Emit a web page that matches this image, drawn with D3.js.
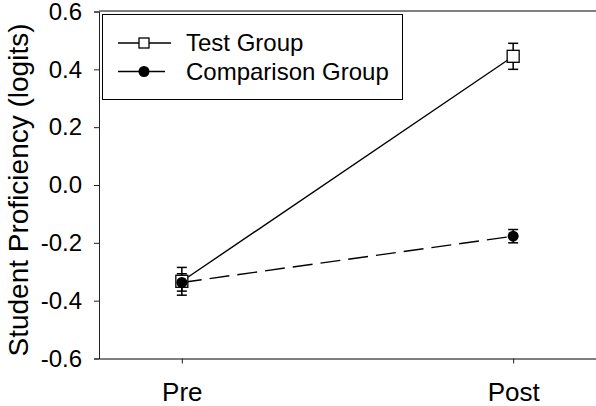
<!DOCTYPE html>
<html>
<head>
<meta charset="utf-8">
<script src="https://cdn.jsdelivr.net/npm/d3@7"></script>
<style>
  body { margin: 0; background: #fff; }
  svg { display: block; font-family: "Liberation Sans", Arial, sans-serif; }
</style>
</head>
<body>
<script>
// data
const phases = ["Pre", "Post"];
const testMeans = [-0.333, 0.445];
const testErr = [0.048, 0.045];
const compMeans = [-0.337, -0.177];
const compErr = [0.03, 0.023];
const yTicks = [-0.6, -0.4, -0.2, 0.0, 0.2, 0.4, 0.6];
const legendLabels = ["Test Group", "Comparison Group"];

const width = 596, height = 406;
const plotLeft = 99, plotRight = 596, plotTop = 11, plotBottom = 358.5;

const svg = d3.select("body").append("svg")
    .attr("width", width)
    .attr("height", height);

// scales
const x = d3.scalePoint().domain(phases).range([plotLeft, plotRight]).padding(0.25);
const y = d3.scaleLinear().domain([-0.6, 0.6]).range([plotBottom, plotTop + 0.5]);

// top frame line
svg.append("line")
    .attr("x1", plotLeft).attr("x2", plotRight)
    .attr("y1", plotTop).attr("y2", plotTop)
    .attr("stroke", "#000").attr("stroke-width", 1);

// y axis
const yAxis = svg.append("g")
    .attr("transform", "translate(" + plotLeft + ",0)")
    .call(d3.axisLeft(y).tickValues(yTicks).tickSize(5).tickPadding(12)
        .tickFormat(d => d.toFixed(1)));
yAxis.select(".domain").attr("stroke", "#222");
yAxis.selectAll(".tick line").attr("stroke", "#222");
yAxis.selectAll("text")
    .attr("font-size", 24).attr("fill", "#000")
    .attr("font-family", "Liberation Sans, Arial, sans-serif");

// x axis
const xAxis = svg.append("g")
    .attr("transform", "translate(0," + plotBottom + ")")
    .call(d3.axisBottom(x).tickSize(5).tickSizeOuter(0));
xAxis.select(".domain").attr("stroke", "#000");
xAxis.selectAll(".tick line").attr("stroke", "#222");
xAxis.selectAll("text")
    .attr("font-size", 26).attr("fill", "#000")
    .attr("font-family", "Liberation Sans, Arial, sans-serif")
    .attr("y", 401 - plotBottom).attr("dy", 0);

// y title
svg.append("text")
    .attr("transform", "translate(28,190) rotate(-90)")
    .attr("text-anchor", "middle")
    .attr("font-size", 28)
    .text("Student Proficiency (logits)");

// series
const series = [
    { means: testMeans, err: testErr, dash: null, marker: "square" },
    { means: compMeans, err: compErr, dash: "20,8", marker: "circle" }
];

const line = d3.line()
    .x((d, i) => x(phases[i]))
    .y(d => y(d));

series.forEach(s => {
    svg.append("path")
        .datum(s.means)
        .attr("d", line)
        .attr("fill", "none")
        .attr("stroke", "#000")
        .attr("stroke-width", 1.4)
        .attr("stroke-dasharray", s.dash);
});

// error bars
series.forEach(s => {
    const g = svg.append("g").attr("stroke", "#000").attr("stroke-width", 1.5);
    s.means.forEach((m, i) => {
        const cx = x(phases[i]);
        g.append("line")
            .attr("x1", cx).attr("x2", cx)
            .attr("y1", y(m + s.err[i])).attr("y2", y(m - s.err[i]));
        [m + s.err[i], m - s.err[i]].forEach(v => {
            g.append("line")
                .attr("x1", cx - 5).attr("x2", cx + 5)
                .attr("y1", y(v)).attr("y2", y(v));
        });
    });
});

// markers
function drawMarker(g, type, cx, cy, size) {
    if (type === "square") {
        g.append("rect")
            .attr("x", cx - size / 2).attr("y", cy - size / 2)
            .attr("width", size).attr("height", size)
            .attr("fill", "#fff").attr("stroke", "#000").attr("stroke-width", 1.3);
    } else {
        g.append("circle")
            .attr("cx", cx).attr("cy", cy).attr("r", size / 2)
            .attr("fill", "#000");
    }
}

series.forEach(s => {
    const g = svg.append("g");
    s.means.forEach((m, i) => drawMarker(g, s.marker, x(phases[i]), y(m), s.marker === "square" ? 12 : 11));
});

// legend
const legend = svg.append("g");
legend.append("rect")
    .attr("x", 102.5).attr("y", 14.5)
    .attr("width", 300).attr("height", 85)
    .attr("fill", "#fff").attr("stroke", "#000").attr("stroke-width", 1);

const legendY = [43, 71.5];
legendLabels.forEach((lab, i) => {
    legend.append("line")
        .attr("x1", 118).attr("x2", i === 0 ? 171 : 165)
        .attr("y1", legendY[i]).attr("y2", legendY[i])
        .attr("stroke", "#000").attr("stroke-width", 1.3);
    drawMarker(legend, series[i].marker, 144, legendY[i], i === 0 ? 10 : 11);
    legend.append("text")
        .attr("x", 186).attr("y", legendY[i])
        .attr("dy", "0.35em")
        .attr("font-size", 24)
        .text(lab);
});
</script>
</body>
</html>
